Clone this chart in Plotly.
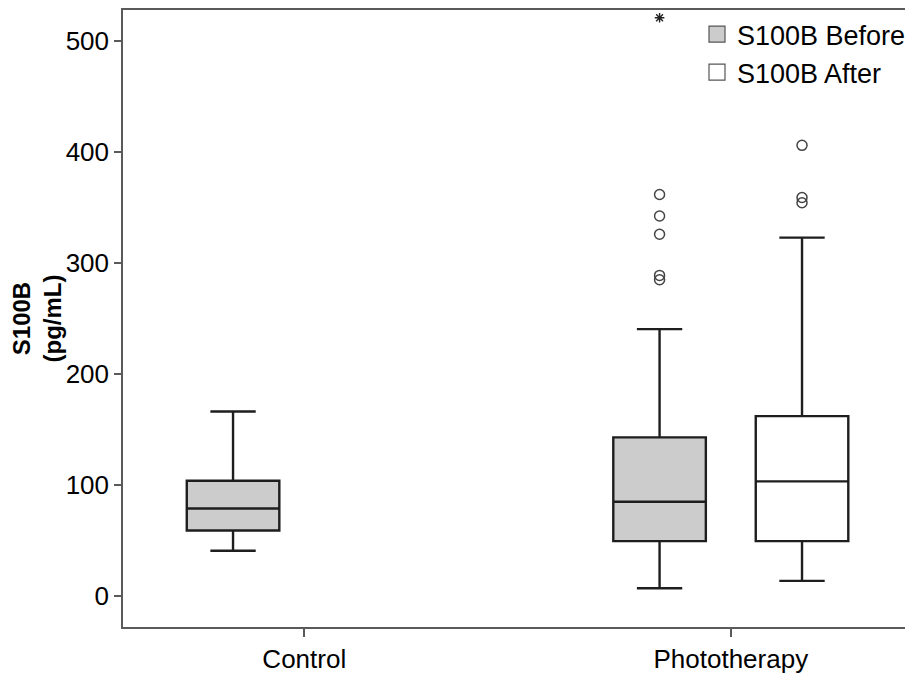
import plotly.graph_objects as go

# ---- data ----
categories = ["Control", "Phototherapy"]
series_names = ["S100B Before", "S100B After"]

before_cats = ["Control", "Phototherapy"]
before_lower = [40.4, 6.6]
before_q1 = [58.7, 49.1]
before_median = [78.5, 84.6]
before_q3 = [103.6, 142.7]
before_upper = [166.0, 240.3]

after_cats = ["Phototherapy"]
after_lower = [13.2]
after_q1 = [49.1]
after_median = [103.0]
after_q3 = [161.8]
after_upper = [322.9]

before_outliers = [361.8, 342.4, 325.9, 288.8, 284.9]
before_extremes = [521.2]
after_outliers = [406.1, 359.1, 354.3]

yticks = [0, 100, 200, 300, 400, 500]

# ---- styling / layout ----
FONT = "Liberation Sans, Arial, sans-serif"
GROUP_OFFSET = 0.167
BOX_WIDTH = 0.217
LINE_COLOR = "#1e1e1e"
AXIS_COLOR = "#5a5a5a"
FILLS = ["#cccccc", "#ffffff"]


def pos(cats, offset):
    return [categories.index(c) + offset for c in cats]


fig = go.Figure()

fig.add_trace(go.Box(
    name=series_names[0], showlegend=False,
    x=pos(before_cats, -GROUP_OFFSET),
    q1=before_q1, median=before_median, q3=before_q3,
    lowerfence=before_lower, upperfence=before_upper,
    width=BOX_WIDTH, whiskerwidth=0.49,
    fillcolor=FILLS[0],
    line=dict(color=LINE_COLOR, width=2.4),
    boxpoints=False,
))
fig.add_trace(go.Box(
    name=series_names[1], showlegend=False,
    x=pos(after_cats, GROUP_OFFSET),
    q1=after_q1, median=after_median, q3=after_q3,
    lowerfence=after_lower, upperfence=after_upper,
    width=BOX_WIDTH, whiskerwidth=0.49,
    fillcolor=FILLS[1],
    line=dict(color=LINE_COLOR, width=2.4),
    boxpoints=False,
))

# outliers
fig.add_trace(go.Scatter(
    x=pos(["Phototherapy"] * len(before_outliers), -GROUP_OFFSET),
    y=before_outliers, mode="markers", showlegend=False,
    marker=dict(symbol="circle-open", size=10, color="#444444", line=dict(width=1.5)),
))
fig.add_trace(go.Scatter(
    x=pos(["Phototherapy"] * len(before_extremes), -GROUP_OFFSET),
    y=before_extremes, mode="markers", showlegend=False,
    marker=dict(symbol="asterisk-open", size=8, color="#222222", line=dict(width=1.4)),
))
fig.add_trace(go.Scatter(
    x=pos(["Phototherapy"] * len(after_outliers), GROUP_OFFSET),
    y=after_outliers, mode="markers", showlegend=False,
    marker=dict(symbol="circle-open", size=10, color="#444444", line=dict(width=1.5)),
))

# legend entries (large square swatches)
for name, fill in zip(series_names, FILLS):
    fig.add_trace(go.Scatter(
        x=[None], y=[None], mode="markers", name=name,
        marker=dict(symbol="square", size=16, color=fill,
                    line=dict(color="#555555", width=1.2)),
    ))

fig.update_layout(
    width=905, height=668,
    margin=dict(l=115, r=2, t=0, b=49),
    paper_bgcolor="white", plot_bgcolor="white",
    font=dict(family=FONT, size=26, color="black"),
    showlegend=True,
    legend=dict(
        x=1, xanchor="right", y=1, yanchor="top",
        bgcolor="rgba(0,0,0,0)", borderwidth=0,
        font=dict(size=27), tracegroupgap=0, itemwidth=30,
    ),
)

fig.update_xaxes(
    range=[-0.425, 1.4225],
    tickmode="array", tickvals=list(range(len(categories))), ticktext=categories,
    ticks="outside", ticklen=8, tickcolor=AXIS_COLOR, tickwidth=1.5,
    showline=True, linecolor=AXIS_COLOR, linewidth=1.5, mirror=True,
    showgrid=False, zeroline=False,
    tickfont=dict(size=26),
)
fig.update_yaxes(
    range=[-28.4, 528.2],
    tickmode="array", tickvals=yticks,
    ticks="outside", ticklen=7, tickcolor=AXIS_COLOR, tickwidth=1.5,
    showline=True, linecolor=AXIS_COLOR, linewidth=1.5, mirror=True,
    showgrid=False, zeroline=False,
    tickfont=dict(size=26),
    title=dict(text="<b>S100B<br>(pg/mL)</b>", font=dict(size=24), standoff=8),
)

fig.write_html("out.html")
